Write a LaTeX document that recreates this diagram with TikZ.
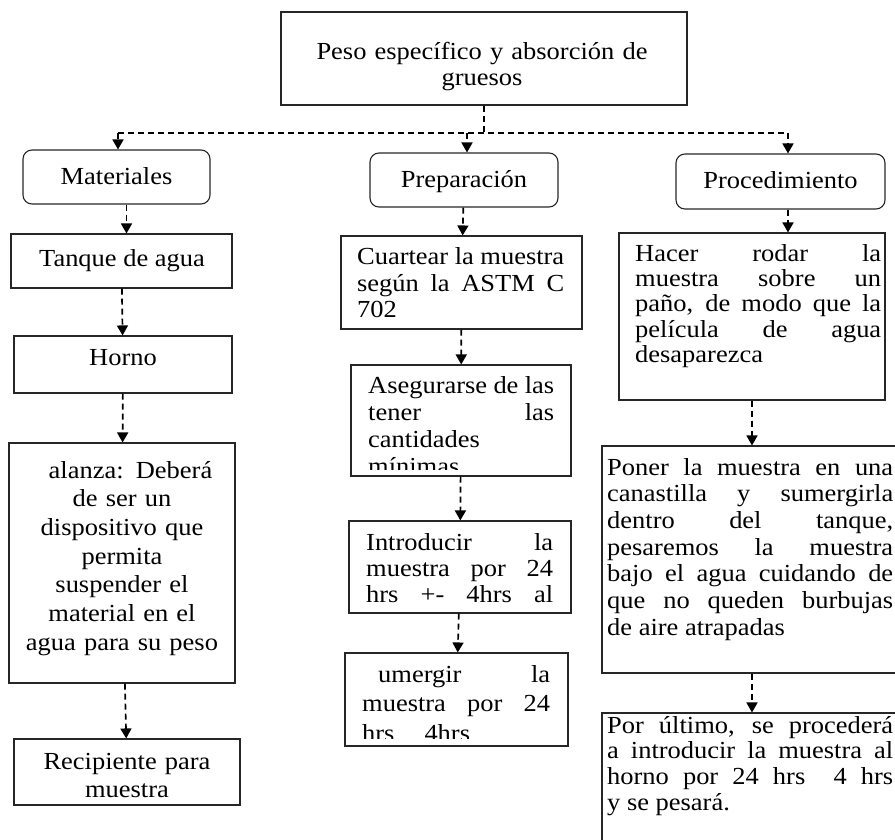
\documentclass[tikz,border=0pt]{standalone}
\usepackage{fontspec}
\setmainfont{Liberation Serif}[FakeStretch=1.08]
\usetikzlibrary{arrows.meta,positioning,calc}

\begin{document}
\begin{tikzpicture}[x=1pt,y=-1pt,
  box/.style={draw=black!85,line width=1.1pt,inner sep=0pt},
  rbox/.style={box,rounded corners=9pt},
  txt/.style={inner sep=0pt,font=\fontsize{24.5pt}{#1}\selectfont},
  txt/.default=26.5pt,
  cen/.style={txt=#1,text width=228pt,align=center,anchor=base},
  cen/.default=26.5pt,
  jus/.style={txt=#1,align=justify,anchor=base west},
  jus/.default=26.5pt,
  link/.style={line width=1.7pt,dash pattern=on 6pt off 4pt},
  arr/.style={link,-{Triangle[length=10pt,width=11pt]}}]
\useasboundingbox (0,0) rectangle (895,840);

% boxes
\node[box,minimum width=406pt,minimum height=93pt] (A) at (484,58.5) {};
\node[rbox,minimum width=187pt,minimum height=54pt] (B) at (116.5,177) {};
\node[rbox,minimum width=188pt,minimum height=54pt] (C) at (464,180) {};
\node[rbox,minimum width=209pt,minimum height=55pt] (D) at (780.5,181.5) {};
\node[box,minimum width=221pt,minimum height=54pt] (E) at (121.5,261) {};
\node[box,minimum width=218pt,minimum height=57pt] (F) at (123,364.5) {};
\node[box,minimum width=226pt,minimum height=240pt] (G) at (122,563) {};
\node[box,minimum width=226pt,minimum height=66pt] (H) at (127,772) {};
\node[box,minimum width=241pt,minimum height=93pt] (I) at (461.5,282.5) {};
\node[box,minimum width=220pt,minimum height=111pt] (J) at (461,420.5) {};
\node[box,minimum width=222pt,minimum height=92pt] (K) at (460,567) {};
\node[box,minimum width=223pt,minimum height=93pt] (L) at (456.5,699.5) {};
\node[box,minimum width=266pt,minimum height=167pt] (M) at (752,316.5) {};
\node[box,minimum width=300pt,minimum height=227pt] (N) at (752,559.5) {};
\node[box,minimum width=300pt,minimum height=157pt] (O) at (752,791.5) {};

% texts
\node[cen=26pt,text width=400pt] (A') at (482,60) {Peso específico y absorción de\\gruesos};
\node[txt,anchor=base] (B') at (116.5,185) {Materiales};
\node[txt,anchor=base] (C') at (464,188) {Preparación};
\node[txt,anchor=base] (D') at (780.5,189) {Procedimiento};
\node[txt,anchor=base] (E') at (122,266) {Tanque de agua};
\node[txt,anchor=base] (F') at (123,365) {Horno};
\node[cen=28.67pt] (G') at (122,478) {\hspace*{17pt}alanza: Deberá\\de ser un\\dispositivo que\\permita\\suspender el\\material en el\\agua para su peso};
\node[cen=28pt] (H') at (127,769) {Recipiente para\\muestra};
\node[jus,text width=207pt] (I') at (357,265) {Cuartear la muestra\linebreak según la ASTM C\linebreak 702};
\begin{scope}
\clip (J.north west) rectangle ([yshift=7pt]J.south east);
\node[jus=27pt,text width=186pt] (J') at (368,393) {Asegurarse de las\linebreak tener las\linebreak cantidades\newline mínimas};
\end{scope}
\node[jus=26pt,text width=187pt] (K') at (366,550) {Introducir la\linebreak muestra por 24\linebreak hrs\hfill+-\hfill4hrs\hfill al};
\begin{scope}
\clip (L.north west) rectangle ([yshift=8pt]L.south east);
\node[jus=29.5pt,text width=188pt] (L') at (362,682) {\hspace*{16pt}umergir la\linebreak muestra por 24\linebreak hrs\hspace{30pt}4hrs};
\end{scope}
\node[jus=25.5pt,text width=246pt] (M') at (635,261) {Hacer rodar la\linebreak muestra sobre un\linebreak paño, de modo que la\linebreak película de agua\linebreak desaparezca};
\node[jus=26.67pt,text width=286pt] (N') at (607,475) {Poner la muestra en una\linebreak canastilla y sumergirla\linebreak dentro del tanque,\linebreak pesaremos la muestra\linebreak bajo el agua cuidando de\linebreak que no queden burbujas\linebreak de aire atrapadas};
\node[jus=25.7pt,text width=286pt] (O') at (607,733) {Por último, se procederá\linebreak a introducir la muestra al\linebreak horno por 24 hrs\ \ 4 hrs\linebreak y se pesará.};

% connectors
\coordinate (a) at (484,133);
\coordinate (b) at (118,133);
\coordinate (c) at (467,133);
\coordinate (d) at (788,133);
\draw[link] (A) -- (a);
\draw[link] (b) -- (d);
\path[arr]
(b) edge (b |- B.north)
(c) edge (c |- C.north)
(d) edge (d |- D.north)
([xshift=10pt]B.south) edge ([xshift=5pt]E.north)
(E) edge (F)
(F) edge (G)
(G) edge (H)
(C) edge (I)
(I) edge (J)
(J) edge (K)
(K) edge (L)
(d |- D.south) edge (d |- M.north)
(M) edge (N)
(N) edge (O);
\end{tikzpicture}
\end{document}
